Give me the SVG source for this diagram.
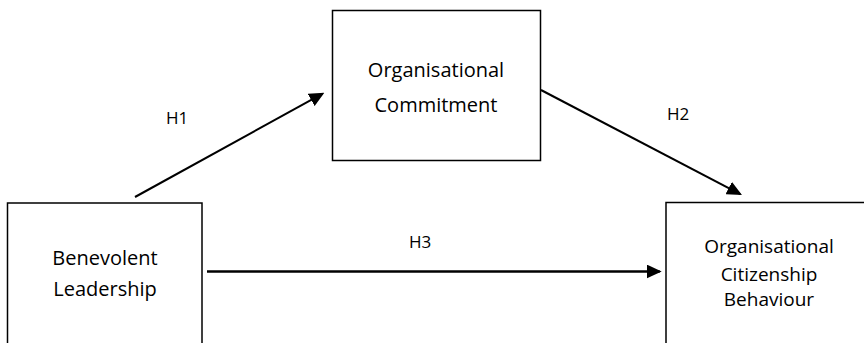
<svg xmlns="http://www.w3.org/2000/svg" width="864" height="343" viewBox="0 0 864 343">
<style>
.box{fill:#fff;stroke:#000;stroke-width:1.5}
.t{font-family:"Open Sans","Liberation Sans",sans-serif;font-size:20px;fill:#000;text-anchor:middle}
.h{font-family:"Open Sans","Liberation Sans",sans-serif;font-size:17px;fill:#000}
.c{stroke:#000;stroke-width:2;fill:none;marker-end:url(#ah)}
</style>
<defs>
<marker id="ah" markerUnits="userSpaceOnUse" markerWidth="15" markerHeight="14" refX="13" refY="7" orient="auto">
<path d="M0,0 L15,7 L0,14 z" fill="#000"/>
</marker>
</defs>
<rect width="864" height="343" fill="#fff"/>
<g id="connectors">
<line class="c" x1="135" y1="197" x2="322.6" y2="93.7"/>
<line class="c" x1="541" y1="90" x2="740.2" y2="194.1"/>
<line class="c" x1="207" y1="271.5" x2="659.7" y2="271.5" style="stroke-width:2.6"/>
<text class="h" x="166" y="124">H1</text>
<text class="h" x="667" y="120">H2</text>
<text class="h" x="409" y="248">H3</text>
</g>
<g id="commitment">
<rect class="box" x="332.5" y="10.5" width="208" height="150"/>
<text class="t" x="436" y="77">Organisational</text>
<text class="t" x="436" y="112">Commitment</text>
</g>
<g id="leadership">
<rect class="box" x="7.5" y="203" width="194.5" height="160"/>
<text class="t" x="105" y="265">Benevolent</text>
<text class="t" x="105" y="296">Leadership</text>
</g>
<g id="ocb">
<rect class="box" x="666" y="202.5" width="220" height="160"/>
<text class="t" x="769" y="253" style="font-size:19px">Organisational</text>
<text class="t" x="769" y="281" style="font-size:19px">Citizenship</text>
<text class="t" x="769" y="306" style="font-size:19px">Behaviour</text>
</g>
</svg>
